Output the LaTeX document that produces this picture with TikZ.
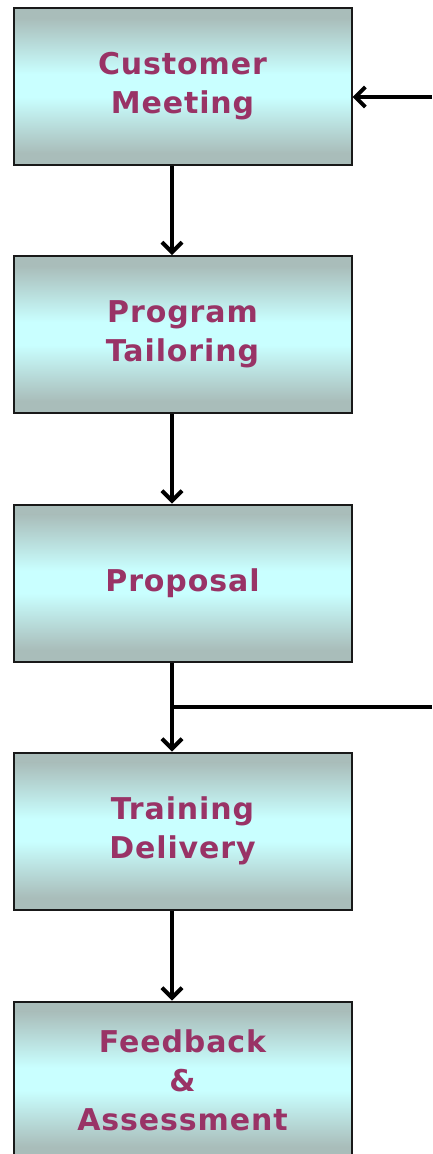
\documentclass[tikz,border=0pt]{standalone}
\usepackage{fontspec}
\setmainfont{DejaVu Sans}[LetterSpace=3]
\usetikzlibrary{arrows.meta}
\definecolor{txtpurple}{HTML}{993366}
\definecolor{boxgray}{HTML}{A9BDBA}
\definecolor{boxcyan}{HTML}{C9FFFF}
\tikzset{
  stepbox/.style={draw=black!90, line width=2pt, rectangle,
    minimum width=338pt, minimum height=157pt, inner sep=0pt,
    path picture={
      \fill[boxgray] (path picture bounding box.south west) rectangle (path picture bounding box.north east);
      \shade[top color=boxgray, bottom color=boxcyan] ([yshift=-10pt]path picture bounding box.north west) rectangle ([yshift=-66pt]path picture bounding box.north east);
      \fill[boxcyan] ([yshift=-66pt]path picture bounding box.north west) rectangle ([yshift=68pt]path picture bounding box.south east);
      \shade[top color=boxcyan, bottom color=boxgray] ([yshift=68pt]path picture bounding box.south west) rectangle ([yshift=12pt]path picture bounding box.south east);
    },
    text=txtpurple, font=\bfseries\fontsize{30}{39}\selectfont, align=center},
  flow/.style={line width=4pt, -{Straight Barb[length=10pt,width=20pt,line width=4pt]}},
  plain/.style={line width=4pt}
}
\begin{document}
\begin{tikzpicture}[x=1pt,y=1pt]
\useasboundingbox (0,0) rectangle (432,-1154);
\clip (0,0) rectangle (432,-1154);
\node[stepbox] (b1) at (182.5,-86.5) {Customer\\Meeting};
\node[stepbox] (b2) at (182.5,-334.5) {Program\\Tailoring};
\node[stepbox] (b3) at (182.5,-583) {Proposal};
\node[stepbox] (b4) at (182.5,-831) {Training\\Delivery};
\node[stepbox] (b5) at (182.5,-1080) {Feedback\\\&\\Assessment};
\draw[flow] ([xshift=-10.5pt]b1.south) -- ([xshift=-10.5pt]b2.north);
\draw[flow] ([xshift=-10.5pt]b2.south) -- ([xshift=-10.5pt]b3.north);
\draw[flow] ([xshift=-10.5pt]b3.south) -- ([xshift=-10.5pt]b4.north);
\draw[flow] ([xshift=-10.5pt]b4.south) -- ([xshift=-10.5pt]b5.north);
\coordinate (fbin) at (432,-97);
\coordinate (fbout) at (432,-707);
\coordinate (branch) at ([xshift=-10.5pt]b3.south |- fbout);
\draw[flow] (fbin) -- (fbin -| b1.east);
\draw[plain] (fbout) -- (branch);
\end{tikzpicture}
\end{document}
